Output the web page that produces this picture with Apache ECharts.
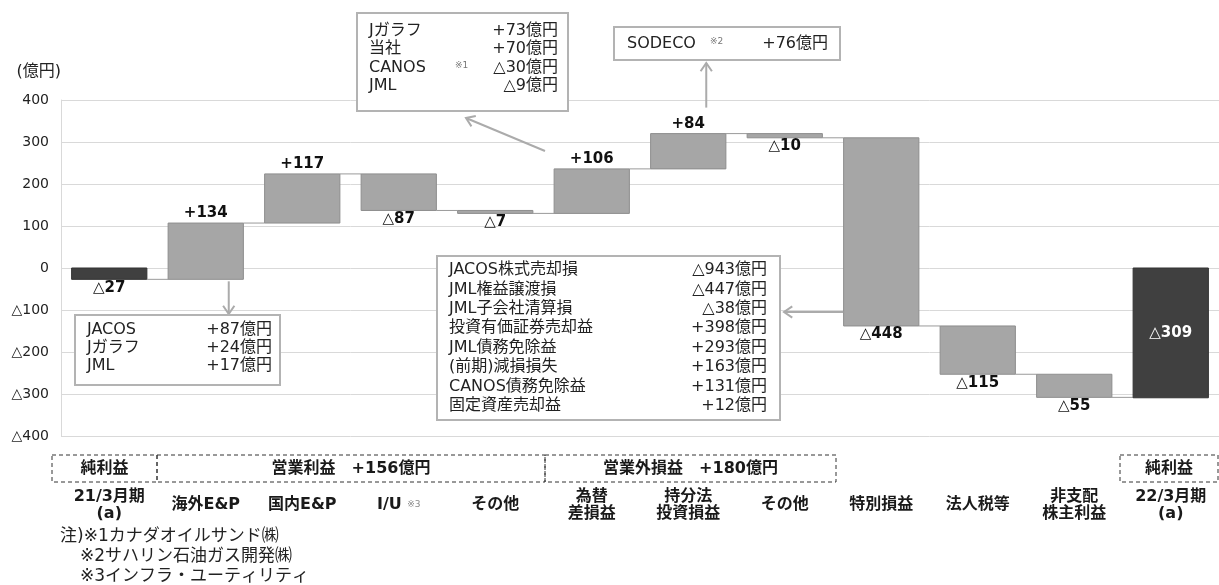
<!DOCTYPE html>
<html>
<head>
<meta charset="utf-8">
<script src="https://cdn.jsdelivr.net/npm/echarts@6/dist/echarts.min.js"></script>
<style>
  html, body { margin: 0; padding: 0; background: #fff; }
  #chart { width: 1219px; height: 585px; }
</style>
</head>
<body>
<div id="chart"></div>
<script>
// 純利益の増減要因（億円）
const categories = ['21/3月期\n(a)', '海外E&P', '国内E&P', 'I/U', 'その他', '為替\n差損益', '持分法\n投資損益', 'その他', '特別損益', '法人税等', '非支配\n株主利益', '22/3月期\n(a)'];
const categoryNotes = ['', '', '', '※3', '', '', '', '', '', '', '', ''];
const openingTotal = -27;
const changes = [134, 117, -87, -7, 106, 84, -10, -448, -115, -55];
const closingTotal = -309;
const yTickValues = [-400, -300, -200, -100, 0, 100, 200, 300, 400];

const groupLabels = ['純利益', '営業利益　+156億円', '営業外損益　+180億円', '純利益'];

const overseasBreakdown = [['JACOS', '', '+87億円'], ['Jガラフ', '', '+24億円'], ['JML', '', '+17億円']];
const forexBreakdown = [['Jガラフ', '', '+73億円'], ['当社', '', '+70億円'], ['CANOS', '※1', '△30億円'], ['JML', '', '△9億円']];
const equityBreakdown = [['SODECO', '※2', '+76億円']];
const specialBreakdown = [
  ['JACOS株式売却損', '', '△943億円'],
  ['JML権益譲渡損', '', '△447億円'],
  ['JML子会社清算損', '', '△38億円'],
  ['投資有価証券売却益', '', '+398億円'],
  ['JML債務免除益', '', '+293億円'],
  ['(前期)減損損失', '', '+163億円'],
  ['CANOS債務免除益', '', '+131億円'],
  ['固定資産売却益', '', '+12億円']
];
const footnotes = ['注)※1カナダオイルサンド㈱', '※2サハリン石油ガス開発㈱', '※3インフラ・ユーティリティ'];

const FONT = '"DejaVu Sans", "Noto Sans CJK JP", sans-serif';
const BAR_GRAY = '#a6a6a6', BAR_DARK = '#404040';

function fmtSigned(v) { return v < 0 ? '△' + (-v) : '+' + v; }
function fmtTotal(v) { return v < 0 ? '△' + (-v) : String(v); }

// waterfall rows: [index, low, high, value, isTotal, levelAfter]
const rows = [];
let running = openingTotal;
rows.push([0, Math.min(0, openingTotal), Math.max(0, openingTotal), openingTotal, 1, openingTotal]);
changes.forEach(function (d, k) {
  const start = running;
  running += d;
  rows.push([k + 1, Math.min(start, running), Math.max(start, running), d, 0, running]);
});
rows.push([categories.length - 1, Math.min(0, closingTotal), Math.max(0, closingTotal), closingTotal, 1, closingTotal]);

const chart = echarts.init(document.getElementById('chart'), null, { renderer: 'canvas' });

function renderStep(params, api) {
  const i = api.value(0), lo = api.value(1), hi = api.value(2), v = api.value(3);
  const isTotal = api.value(4) === 1, level = api.value(5);
  const last = i === categories.length - 1;
  const top = api.coord([i, hi]), bottom = api.coord([i, lo]);
  const bw = api.size([1, 0])[0] * 0.78;
  const children = [{
    type: 'rect',
    shape: { x: top[0] - bw / 2, y: top[1], width: bw, height: Math.max(1, bottom[1] - top[1]) },
    style: { fill: isTotal ? BAR_DARK : BAR_GRAY, stroke: isTotal ? '#333' : '#8e8e8e', lineWidth: 1 }
  }];
  if (!last) {
    const a = api.coord([i, level]), b = api.coord([i + 1, level]);
    children.push({
      type: 'line',
      shape: { x1: a[0] + bw / 2, y1: a[1], x2: b[0] - bw / 2, y2: b[1] },
      style: { stroke: '#9a9a9a', lineWidth: 1 }
    });
  }
  let text, ty, vAlign, fill = '#111';
  if (isTotal && last) {
    text = fmtTotal(v); ty = (top[1] + bottom[1]) / 2; vAlign = 'middle'; fill = '#fff';
  } else if (isTotal) {
    text = fmtTotal(v); ty = bottom[1] + 1; vAlign = 'top';
  } else if (v >= 0) {
    text = fmtSigned(v); ty = top[1] - 2; vAlign = 'bottom';
  } else {
    text = fmtSigned(v); ty = bottom[1] + 1; vAlign = 'top';
  }
  children.push({
    type: 'text',
    style: { text: text, x: top[0], y: ty, align: 'center', verticalAlign: vAlign, font: 'bold 15px ' + FONT, fill: fill }
  });
  return { type: 'group', children: children };
}

chart.setOption({
  animation: false,
  backgroundColor: '#fff',
  grid: { left: 61, top: 100, width: 1168, height: 336 },
  xAxis: {
    type: 'category',
    data: categories,
    axisLine: { show: false, onZero: false },
    axisTick: { show: false },
    splitLine: { show: false },
    axisLabel: {
      interval: 0,
      margin: 69,
      verticalAlign: 'middle',
      color: '#1a1a1a',
      fontFamily: FONT,
      fontWeight: 'bold',
      fontSize: 16,
      lineHeight: 17,
      formatter: function (val, idx) {
        return categoryNotes[idx] ? val + ' {note|' + categoryNotes[idx] + '}' : val;
      },
      rich: { note: { fontSize: 9, color: '#888', fontWeight: 'normal', fontFamily: FONT } }
    }
  },
  yAxis: {
    type: 'value',
    min: yTickValues[0],
    max: yTickValues[yTickValues.length - 1],
    interval: yTickValues[1] - yTickValues[0],
    name: '(億円)',
    nameLocation: 'end',
    nameGap: 20,
    nameTextStyle: { color: '#222', fontSize: 16, fontFamily: FONT, align: 'right', padding: [0, 0, 0, 0] },
    axisLine: { show: true, lineStyle: { color: '#d9d9d9', width: 1 } },
    axisTick: { show: false },
    splitLine: { lineStyle: { color: '#d9d9d9', width: 1 } },
    axisLabel: {
      margin: 12,
      color: '#222',
      fontSize: 14,
      fontFamily: FONT,
      formatter: function (v) { return v < 0 ? '△' + (-v) : String(v); }
    }
  },
  series: [{
    type: 'custom',
    renderItem: renderStep,
    encode: { x: 0, y: [1, 2] },
    data: rows,
    z: 3
  }]
});

// annotation layer
const graphics = [];
const TXT = '16px ' + FONT;

function callout(x, y, w, h, lines, opts) {
  graphics.push({
    type: 'rect', z: 10,
    shape: { x: x, y: y, width: w, height: h },
    style: { fill: '#fff', stroke: '#b3b3b3', lineWidth: 2 }
  });
  lines.forEach(function (ln, k) {
    const cy = opts.firstY + k * opts.step;
    graphics.push({ type: 'text', z: 11, style: { text: ln[0], x: x + opts.padL, y: cy, verticalAlign: 'middle', align: 'left', font: TXT, fill: '#222' } });
    if (ln[1]) {
      graphics.push({ type: 'text', z: 11, style: { text: ln[1], x: x + opts.noteX, y: cy - 2, verticalAlign: 'middle', align: 'left', font: '9px ' + FONT, fill: '#777' } });
    }
    graphics.push({ type: 'text', z: 11, style: { text: ln[2], x: x + w - opts.padR, y: cy, verticalAlign: 'middle', align: 'right', font: TXT, fill: '#222' } });
  });
}

function arrow(x1, y1, x2, y2) {
  const ang = Math.atan2(y2 - y1, x2 - x1), len = 10, spread = 0.6;
  graphics.push({ type: 'line', z: 9, shape: { x1: x1, y1: y1, x2: x2, y2: y2 }, style: { stroke: '#ababab', lineWidth: 2 } });
  graphics.push({
    type: 'polyline', z: 9,
    shape: { points: [
      [x2 - len * Math.cos(ang - spread), y2 - len * Math.sin(ang - spread)],
      [x2, y2],
      [x2 - len * Math.cos(ang + spread), y2 - len * Math.sin(ang + spread)]
    ] },
    style: { stroke: '#ababab', lineWidth: 2, fill: 'none' }
  });
}

callout(75, 315, 205, 70, overseasBreakdown, { firstY: 330, step: 18, padL: 12, padR: 8, noteX: 0 });
callout(357, 13, 211, 98, forexBreakdown, { firstY: 31, step: 18.3, padL: 12, padR: 10, noteX: 98 });
callout(614, 27, 226, 33, equityBreakdown, { firstY: 44, step: 18, padL: 13, padR: 12, noteX: 96 });
callout(437, 256, 343, 164, specialBreakdown, { firstY: 270, step: 19.4, padL: 12, padR: 13, noteX: 0 });

// arrows from the related bars to their breakdown boxes
const pOverseas = chart.convertToPixel({ gridIndex: 0 }, [1, openingTotal]);
arrow(pOverseas[0] + 23, pOverseas[1] + 2, pOverseas[0] + 23, 314);
arrow(545, 151, 466, 118);
const pEquity = chart.convertToPixel({ gridIndex: 0 }, [6, rows[6][2]]);
arrow(pEquity[0] + 18, pEquity[1] - 26, pEquity[0] + 18, 63);
const pSpecial = chart.convertToPixel({ gridIndex: 0 }, [8, -100]);
arrow(pSpecial[0] - 38, pSpecial[1] + 2, 784, pSpecial[1] + 2);

// dashed group headers
const headerSpans = [[52, 157], [157, 545], [545, 836], [1120, 1218]];
headerSpans.forEach(function (s, k) {
  graphics.push({
    type: 'rect', z: 5,
    shape: { x: s[0], y: 455, width: s[1] - s[0], height: 27 },
    style: { fill: 'none', stroke: '#333', lineWidth: 1, lineDash: [4, 3] }
  });
  graphics.push({
    type: 'text', z: 6,
    style: { text: groupLabels[k], x: (s[0] + s[1]) / 2, y: 468.5, align: 'center', verticalAlign: 'middle', font: 'bold 16px ' + FONT, fill: '#1a1a1a' }
  });
});

footnotes.forEach(function (t, k) {
  graphics.push({
    type: 'text', z: 6,
    style: { text: t, x: k === 0 ? 60 : 80, y: 537 + k * 20, align: 'left', verticalAlign: 'middle', font: '17px ' + FONT, fill: '#222' }
  });
});

chart.setOption({ graphic: { elements: graphics } });
</script>
</body>
</html>
